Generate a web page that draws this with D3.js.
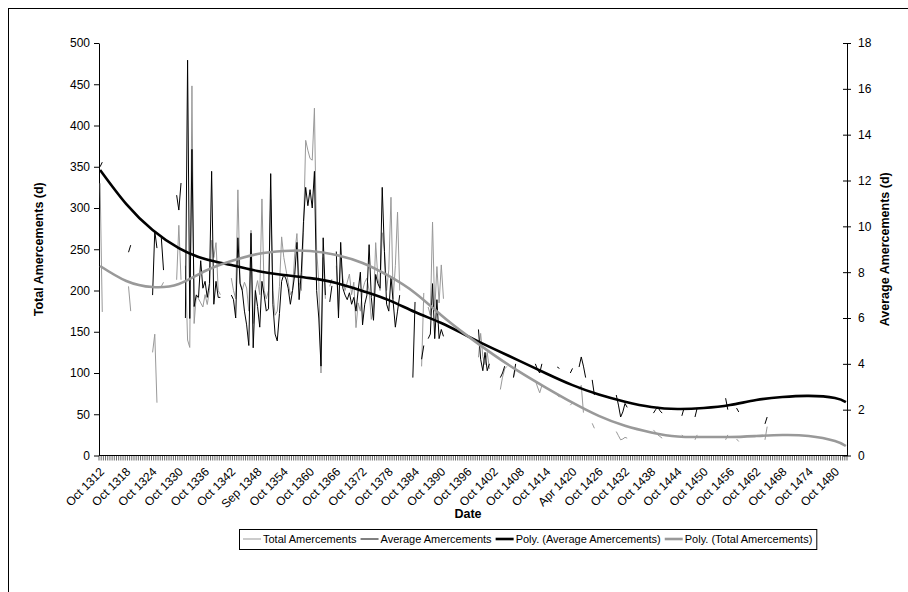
<!DOCTYPE html>
<html>
<head>
<meta charset="utf-8">
<script src="https://cdn.jsdelivr.net/npm/d3@7"></script>
<style>
  html, body { margin: 0; padding: 0; background: #fff; }
  svg { display: block; font-family: "Liberation Sans", Arial, sans-serif; }
</style>
</head>
<body>
<svg id="chart" width="908" height="592"></svg>
<script>
// Half-yearly court sessions, Oct 1312 onward; every 12th session is labelled.
const categoryCount = 342;
const tickEvery = 12;
const tickLabels = [
  "Oct 1312", "Oct 1318", "Oct 1324", "Oct 1330", "Oct 1336", "Oct 1342",
  "Sep 1348", "Oct 1354", "Oct 1360", "Oct 1366", "Oct 1372", "Oct 1378",
  "Oct 1384", "Oct 1390", "Oct 1396", "Oct 1402", "Oct 1408", "Oct 1414",
  "Apr 1420", "Oct 1426", "Oct 1432", "Oct 1438", "Oct 1444", "Oct 1450",
  "Oct 1456", "Oct 1462", "Oct 1468", "Oct 1474", "Oct 1480"
];

// Recorded sessions as [first session index, consecutive values]; gaps are unrecorded sessions.
const totalRuns = [
  [0, [330, 174]],
  [13, [205, 175]],
  [24, [125, 147, 64]],
  [28, [205, 210]],
  [35, [213, 279, 213]],
  [39, [230, 140, 131, 448, 160, 195, 190, 185, 180, 195, 183, 200, 261, 240, 258, 200, 195]],
  [60, [215, 200, 190, 322, 210, 200, 210, 203, 175, 273, 160, 200, 212, 195, 311, 200, 190, 200, 310, 200,
        170, 175, 205, 265, 240, 225, 210, 195, 200, 245, 269, 210, 200, 270, 382, 370, 360, 358, 421, 250,
        210, 100, 240, 190]],
  [105, [205, 214]],
  [108, [230, 175, 240, 215, 200, 210, 220, 195, 210, 155, 185, 175, 200, 210, 215, 200, 165, 180, 258, 215,
         200, 270, 250, 200, 225, 313, 190, 230, 295, 200]],
  [147, [108, 197]],
  [150, [180, 170, 283, 175, 229, 185, 231, 190]],
  [173, [119, 148, 120, 110, 125, 105]],
  [183, [80, 95, 105, 108]],
  [189, [95, 105]],
  [199, [91, 83, 76, 85]],
  [209, [73, 71]],
  [215, [61, 64]],
  [219, [80, 85, 52]],
  [225, [39, 33]],
  [236, [29, 24, 19, 20, 22, 21]],
  [253, [31, 28, 25, 23, 21]],
  [266, [25, 22]],
  [272, [19, 25]],
  [286, [19, 25]],
  [291, [20, 17]],
  [304, [19, 35]]
];

const averageRuns = [
  [0, [12.6, 12.8]],
  [13, [8.87, 9.18]],
  [24, [7.0, 9.79, 9.05]],
  [28, [9.49, 8.09]],
  [35, [11.36, 10.71, 11.89]],
  [39, [6.0, 17.25, 5.98, 13.36, 6.5, 7.0, 6.9, 8.5, 7.3, 7.6, 6.9, 7.5, 12.4, 6.6, 7.6, 6.9, 6.9]],
  [60, [7.0, 6.8, 6.0, 9.5, 7.5, 7.2, 6.3, 5.7, 4.8, 9.7, 4.7, 7.2, 6.5, 5.6, 7.6, 7.0, 6.3, 6.4, 12.3, 6.6,
        5.3, 5.0, 6.2, 7.6, 7.9, 7.7, 7.3, 6.6, 7.2, 7.9, 9.3, 6.8, 8.0, 10.2, 11.7, 10.9, 11.6, 10.8, 12.4, 7.2,
        6.0, 3.9, 9.5, 7.0]],
  [105, [6.7, 7.4]],
  [108, [8.9, 6.0, 9.3, 7.3, 7.0, 6.8, 7.1, 6.6, 6.9, 6.3, 7.2, 8.0, 5.7, 6.6, 7.0, 9.2, 6.9, 5.9, 7.9, 7.5,
         7.3, 11.7, 8.9, 6.6, 6.3, 7.8, 6.7, 5.6, 6.3, 7.0]],
  [143, [3.4, 6.7]],
  [147, [4.2, 4.8]],
  [150, [5.1, 5.3, 7.5, 5.1, 6.8, 5.1, 5.5, 5.2]],
  [173, [5.5, 4.2, 3.7, 4.5, 3.7, 4.0]],
  [183, [3.4, 3.6, 3.9]],
  [189, [3.4, 4.0]],
  [199, [4.0, 3.75, 3.6, 4.0]],
  [209, [3.86, 3.8]],
  [215, [3.6, 3.8]],
  [219, [3.86, 4.3, 3.9, 3.4]],
  [225, [3.3, 2.64]],
  [236, [2.64, 2.2, 1.68, 1.9, 2.27, 2.1]],
  [253, [1.85, 2.0, 2.12, 1.95, 1.85]],
  [266, [1.73, 2.07]],
  [272, [1.68, 2.07]],
  [286, [2.5, 2.0]],
  [291, [2.07, 1.9]],
  [304, [1.38, 1.68]]
];

// Polynomial trend lines, read at the labelled sessions and the last session.
const trendIndex = [0, 12, 24, 36, 48, 60, 72, 84, 96, 108, 120, 132, 144, 156, 168,
                    180, 192, 204, 216, 228, 240, 252, 264, 276, 288, 300, 312, 324, 336, 341];
const trendAverage = [12.46, 10.97, 9.84, 9.05, 8.57, 8.31, 8.05, 7.88, 7.74, 7.53, 7.18, 6.78, 6.26, 5.78, 5.21,
                      4.65, 4.12, 3.58, 3.07, 2.66, 2.35, 2.12, 2.03, 2.07, 2.20, 2.42, 2.55, 2.60, 2.51, 2.33];
const trendTotal = [229.7, 211.5, 204.2, 207.9, 223.6, 235.8, 244.2, 247.9, 247.9, 243.0, 233.3, 217.6, 197.0, 170.0, 145.0,
                    122.0, 101.0, 82.0, 64.0, 48.0, 36.0, 28.0, 23.0, 22.4, 22.4, 23.6, 24.8, 23.6, 17.6, 11.5];

const leftTicks = [0, 50, 100, 150, 200, 250, 300, 350, 400, 450, 500];
const rightTicks = [0, 2, 4, 6, 8, 10, 12, 14, 16, 18];

const seriesNames = ["Total Amercements", "Average Amercements",
                     "Poly. (Average Amercements)", "Poly. (Total Amercements)"];

function expandRuns(runs) {
  const out = new Array(categoryCount).fill(null);
  runs.forEach(([start, vals]) => vals.forEach((v, j) => { out[start + j] = v; }));
  return out;
}
const totalValues = expandRuns(totalRuns);
const averageValues = expandRuns(averageRuns);

const svg = d3.select("#chart");
const plot = { left: 99, right: 847, top: 43, bottom: 455.5 };

// Outer chart frame
svg.append("rect")
  .attr("x", 8.5).attr("y", 8.5).attr("width", 1000).attr("height", 700)
  .attr("fill", "#fff").attr("stroke", "#000").attr("stroke-width", 1);

const x = d3.scaleBand().domain(d3.range(categoryCount)).range([plot.left, plot.right]).padding(0);
const xc = i => x(i) + x.bandwidth() / 2;
const yLeft = d3.scaleLinear().domain([0, 500]).range([plot.bottom, plot.top]);
const yRight = d3.scaleLinear().domain([0, 18]).range([plot.bottom, plot.top]);

// Left axis
const gLeft = svg.append("g").attr("transform", `translate(${plot.left},0)`)
  .call(d3.axisLeft(yLeft).tickValues(leftTicks).tickSize(5).tickPadding(4).tickSizeOuter(0));
gLeft.selectAll("text").attr("font-size", 12).attr("fill", "#000").attr("font-family", "Liberation Sans, Arial, sans-serif");
gLeft.selectAll("line, path").attr("stroke", "#000");

// Right axis with cross tick marks
const gRight = svg.append("g").attr("transform", `translate(${plot.right},0)`)
  .call(d3.axisRight(yRight).tickValues(rightTicks).tickSize(4).tickPadding(7).tickSizeOuter(0));
gRight.selectAll(".tick line").attr("x1", -4);
gRight.selectAll("text").attr("font-size", 12).attr("fill", "#000").attr("font-family", "Liberation Sans, Arial, sans-serif");
gRight.selectAll("line, path").attr("stroke", "#000");

// Category axis: a tick between every session, labels on every 12th
const gX = svg.append("g");
const bw = x.bandwidth();
gX.selectAll("line.tick").data(d3.range(categoryCount + 1)).join("line")
  .attr("class", "tick")
  .attr("x1", i => plot.left + i * bw).attr("x2", i => plot.left + i * bw)
  .attr("y1", plot.bottom).attr("y2", plot.bottom + 5)
  .attr("stroke", "#000").attr("stroke-width", 0.6);
gX.append("line")
  .attr("x1", plot.left).attr("x2", plot.right)
  .attr("y1", plot.bottom).attr("y2", plot.bottom)
  .attr("stroke", "#000");
gX.selectAll("text").data(tickLabels).join("text")
  .attr("transform", (d, k) => `translate(${xc(k * tickEvery) + 2},${plot.bottom + 14}) rotate(-45)`)
  .attr("text-anchor", "end").attr("dy", "0.35em")
  .attr("font-size", 12).attr("fill", "#000")
  .text(d => d);

// Axis titles
svg.append("text")
  .attr("transform", `translate(43,${(plot.top + plot.bottom) / 2}) rotate(-90)`)
  .attr("text-anchor", "middle").attr("font-size", 12.5).attr("font-weight", "bold")
  .text("Total Amercements (d)");
svg.append("text")
  .attr("transform", `translate(889,${(plot.top + plot.bottom) / 2}) rotate(-90)`)
  .attr("text-anchor", "middle").attr("font-size", 12.5).attr("font-weight", "bold")
  .text("Average Amercements (d)");
svg.append("text")
  .attr("x", 468).attr("y", 518)
  .attr("text-anchor", "middle").attr("font-size", 12.5).attr("font-weight", "bold")
  .text("Date");

// Data series
const lineTotal = d3.line().defined(d => d != null).x((d, i) => xc(i)).y(d => yLeft(d));
const lineAverage = d3.line().defined(d => d != null).x((d, i) => xc(i)).y(d => yRight(d));

svg.append("path").datum(totalValues)
  .attr("d", lineTotal).attr("fill", "none").attr("stroke", "#999999").attr("stroke-width", 1);
svg.append("path").datum(averageValues)
  .attr("d", lineAverage).attr("fill", "none").attr("stroke", "#000").attr("stroke-width", 1);

// Trend lines
const trendLineAvg = d3.line().curve(d3.curveNatural).x((d, k) => xc(trendIndex[k])).y(d => yRight(d));
const trendLineTot = d3.line().curve(d3.curveNatural).x((d, k) => xc(trendIndex[k])).y(d => yLeft(d));
svg.append("path").datum(trendAverage)
  .attr("d", trendLineAvg).attr("fill", "none").attr("stroke", "#000").attr("stroke-width", 2.6);
svg.append("path").datum(trendTotal)
  .attr("d", trendLineTot).attr("fill", "none").attr("stroke", "#999999").attr("stroke-width", 2.6);

// Legend
const legendStyles = [
  { color: "#999999", width: 1 },
  { color: "#000", width: 1 },
  { color: "#000", width: 2.6 },
  { color: "#999999", width: 2.6 }
];
const gLeg = svg.append("g");
const legY = 539;
const sampleLen = 18;
let cursor = 0;
const items = [];
seriesNames.forEach((name, k) => {
  const g = gLeg.append("g");
  g.append("line").attr("x1", 0).attr("x2", sampleLen).attr("y1", 0).attr("y2", 0)
    .attr("stroke", legendStyles[k].color).attr("stroke-width", legendStyles[k].width);
  const t = g.append("text").attr("x", sampleLen + 2).attr("y", 0).attr("dy", "0.35em")
    .attr("font-size", 11).text(name);
  const w = sampleLen + 2 + t.node().getComputedTextLength();
  items.push({ g, offset: cursor });
  cursor += w + 4;
});
const legWidth = cursor - 4 + 8;
const legLeft = Math.round(528 - legWidth / 2);
gLeg.insert("rect", ":first-child")
  .attr("x", legLeft + 0.5).attr("y", legY - 10 + 0.5)
  .attr("width", legWidth).attr("height", 20)
  .attr("fill", "#fff").attr("stroke", "#000");
items.forEach(it => it.g.attr("transform", `translate(${legLeft + 4 + it.offset},${legY})`));
</script>
</body>
</html>
